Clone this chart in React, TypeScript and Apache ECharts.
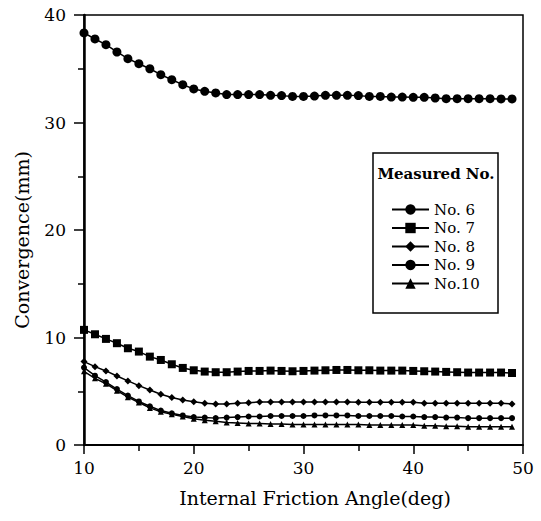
import React, { useEffect, useRef } from "react";
import * as echarts from "echarts";

const angles = [10,11,12,13,14,15,16,17,18,19,20,21,22,23,24,25,26,27,28,29,30,31,32,33,34,35,36,37,38,39,40,41,42,43,44,45,46,47,48,49];

const no6 = [38.33,37.77,37.24,36.56,35.94,35.47,35.0,34.45,33.98,33.52,33.12,32.9,32.75,32.6,32.6,32.6,32.6,32.53,32.5,32.43,32.43,32.46,32.53,32.53,32.53,32.5,32.43,32.43,32.37,32.37,32.34,32.34,32.28,32.22,32.22,32.22,32.22,32.22,32.19,32.19];
const no7 = [10.71,10.3,9.87,9.47,9.0,8.69,8.22,7.91,7.51,7.17,6.95,6.83,6.77,6.77,6.83,6.89,6.89,6.92,6.89,6.86,6.89,6.92,6.95,6.98,6.98,6.95,6.95,6.92,6.92,6.92,6.89,6.86,6.83,6.8,6.77,6.74,6.74,6.74,6.74,6.7];
const no8 = [7.76,7.29,6.89,6.42,5.96,5.52,5.12,4.72,4.41,4.19,4.03,3.88,3.82,3.82,3.88,3.94,4.0,4.0,4.0,4.0,4.0,4.0,4.0,4.0,4.0,3.97,3.97,3.97,3.97,3.97,3.97,3.88,3.88,3.88,3.88,3.88,3.88,3.88,3.88,3.82];
const no9 = [7.2,6.45,5.85,5.2,4.6,4.05,3.6,3.2,2.95,2.75,2.6,2.55,2.5,2.55,2.6,2.65,2.65,2.7,2.7,2.7,2.7,2.75,2.75,2.75,2.75,2.7,2.7,2.7,2.7,2.65,2.65,2.6,2.6,2.55,2.55,2.5,2.5,2.5,2.5,2.5];
const no10 = [6.85,6.2,5.7,5.05,4.45,3.95,3.45,3.1,2.85,2.65,2.45,2.3,2.2,2.1,2.05,2.0,2.0,1.95,1.95,1.9,1.9,1.9,1.9,1.9,1.9,1.9,1.85,1.85,1.85,1.85,1.85,1.8,1.8,1.75,1.75,1.7,1.7,1.7,1.7,1.7];

const seriesNames = ["No. 6", "No. 7", "No. 8", "No. 9", "No.10"];
const seriesSymbols = ["circle", "rect", "diamond", "circle", "triangle"];
const seriesSizes = [9, 8, 7, 6, 6];

const xTitle = "Internal Friction Angle(deg)";
const yTitle = "Convergence(mm)";
const legendTitle = "Measured No.";

const FONT = "'DejaVu Serif', 'Liberation Serif', serif";

export default function App() {
  const ref = useRef<HTMLDivElement>(null);
  useEffect(() => {
    if (!ref.current) return;
    document.body.style.margin = "0";
    const chart = echarts.init(ref.current, undefined, { renderer: "svg" });
    const all = [no6, no7, no8, no9, no10];
    const series = all.map((vals, i) => ({
      name: seriesNames[i],
      type: "line",
      data: angles.map((a, j) => [a, vals[j]]),
      symbol: seriesSymbols[i],
      symbolSize: seriesSizes[i],
      showAllSymbol: true,
      lineStyle: { color: "#000", width: 1.5 },
      itemStyle: { color: "#000" },
    }));
    chart.setOption({
      animation: false,
      backgroundColor: "#fff",
      grid: {
        left: 84,
        right: 18,
        top: 15,
        bottom: 76,
        show: true,
        borderColor: "#000",
        borderWidth: 1.5,
      },
      xAxis: {
        type: "value",
        min: 10,
        max: 50,
        interval: 10,
        axisLine: { show: true, lineStyle: { color: "#000", width: 2 } },
        axisTick: { show: true, length: 9, lineStyle: { color: "#000", width: 1.5 } },
        minorTick: { show: true, splitNumber: 2, length: 6, lineStyle: { color: "#000", width: 1.5 } },
        splitLine: { show: false },
        axisLabel: { color: "#000", fontFamily: FONT, fontSize: 17, margin: 14 },
      },
      yAxis: {
        type: "value",
        min: 0,
        max: 40,
        interval: 10,
        axisLine: { show: true, lineStyle: { color: "#000", width: 2.5 } },
        axisTick: { show: true, length: 10, lineStyle: { color: "#000", width: 1.5 } },
        minorTick: { show: true, splitNumber: 2, length: 6, lineStyle: { color: "#000", width: 1.5 } },
        splitLine: { show: false },
        axisLabel: { color: "#000", fontFamily: FONT, fontSize: 17, margin: 18 },
      },
      legend: {
        orient: "vertical",
        left: 391,
        top: 202,
        itemWidth: 37,
        itemHeight: 13,
        itemGap: 3.5,
        data: seriesNames,
        textStyle: { color: "#000", fontFamily: FONT, fontSize: 15, lineHeight: 15 },
        padding: 0,
      },
      graphic: [
        {
          type: "rect",
          shape: { x: 373, y: 153, width: 125, height: 160 },
          style: { fill: "none", stroke: "#000", lineWidth: 1.5 },
          z: 10,
        },
        {
          type: "text",
          x: 436,
          y: 174,
          style: {
            text: legendTitle,
            font: "bold 15px " + FONT,
            fill: "#000",
            textAlign: "center",
            textVerticalAlign: "middle",
          },
          z: 10,
        },
        {
          type: "text",
          x: 315,
          y: 498,
          style: {
            text: xTitle,
            font: "19px " + FONT,
            fill: "#000",
            textAlign: "center",
            textVerticalAlign: "middle",
          },
        },
        {
          type: "text",
          x: 22,
          y: 240,
          rotation: Math.PI / 2,
          style: {
            text: yTitle,
            font: "19px " + FONT,
            fill: "#000",
            textAlign: "center",
            textVerticalAlign: "middle",
          },
        },
      ],
      series,
    });
    return () => chart.dispose();
  }, []);
  return <div ref={ref} style={{ width: 541, height: 521 }} />;
}
